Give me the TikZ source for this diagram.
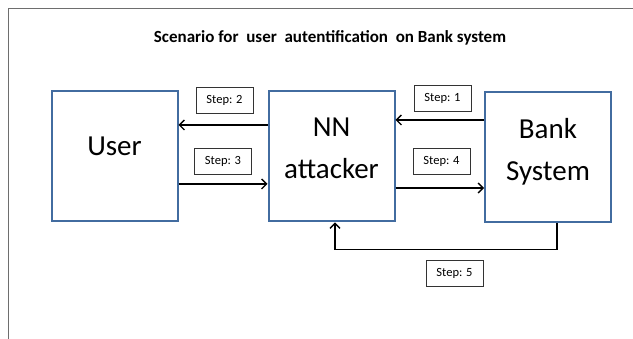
\documentclass[tikz,border=0pt]{standalone}
\usepackage{fontspec}
\setmainfont{Carlito}
\usepackage{tikz}
\usetikzlibrary{arrows.meta,positioning}
\definecolor{boxblue}{RGB}{66,108,160}
\definecolor{framegray}{RGB}{110,110,110}

\begin{document}
\begin{tikzpicture}[x=1pt,y=-1pt,
	bigbox/.style={rectangle,draw=boxblue,line width=2pt,minimum width=126pt,minimum height=130pt,align=center,font=\fontsize{29}{42}\selectfont},
	stepbox/.style={rectangle,draw=black!80,line width=0.6pt,minimum width=57pt,minimum height=26pt,inner sep=0pt,font=\fontsize{12.5}{14}\selectfont},
	arr/.style={line width=1.4pt,-{Straight Barb[length=5pt,width=10pt]}}]
	\useasboundingbox (0,0) rectangle (633,339);
	\draw[framegray,line width=0.8pt] (633,8.5) -- (8.5,8.5) -- (8.5,339);

	\node[font=\bfseries\fontsize{17}{20}\selectfont] (title) at (330,38) {Scenario for\ \ user\ \ autentification\ \ on Bank system};

	\begin{scope}
		\node[bigbox,text depth=20pt] (User) at (114.5,156.5) {User};
		\node[bigbox,text depth=16pt] (NN) at (331.5,156.5) {NN\\attacker};
		\node[bigbox,text depth=16pt] (Bank) at (548,157.5) {Bank\\System};
	\end{scope}

	\begin{scope}
		\node[stepbox] (S1) at (442.5,98) {Step: 1};
		\node[stepbox] (S2) at (224.5,100) {Step: 2};
		\node[stepbox] (S3) at (223,161) {Step: 3};
		\node[stepbox] (S4) at (441.5,161) {Step: 4};
		\node[stepbox] (S5) at (454.5,273) {Step: 5};
	\end{scope}

	\coordinate (b1) at ([yshift=37.5pt]Bank.west);
	\coordinate (a4) at ([yshift=-31.5pt]NN.east);
	\begin{scope}
	\draw[arr] (b1) -- (NN.east |- b1);
	\draw[arr] ([yshift=31.5pt]NN.west) -- ([yshift=31.5pt]User.east);
	\draw[arr] ([yshift=-27.5pt]User.east) -- ([yshift=-27.5pt]NN.west);
	\draw[arr] (a4) -- (Bank.west |- a4);
	\draw[arr] ([xshift=9pt]Bank.south) -- ++(0,-26pt) -| ([xshift=3.5pt]NN.south);
	\end{scope}
\end{tikzpicture}
\end{document}
